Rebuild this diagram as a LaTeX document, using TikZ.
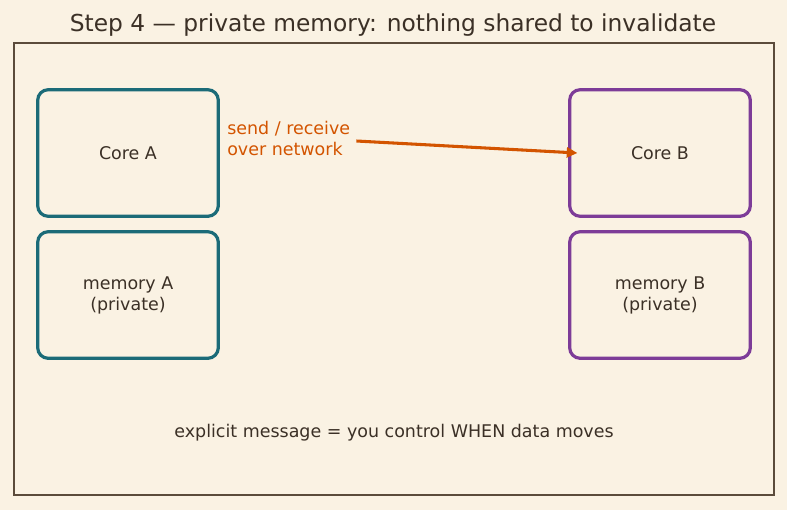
\documentclass[tikz,border=0pt]{standalone}
\usepackage{fontspec}
\setmainfont{DejaVu Sans}
\usepackage{tikz}
\usetikzlibrary{arrows.meta}
\definecolor{paper}{HTML}{FAF2E3}
\definecolor{ink}{HTML}{3B3026}
\definecolor{framec}{HTML}{5B4B3B}
\definecolor{teal}{HTML}{1B6B78}
\definecolor{plum}{HTML}{7D3C98}
\definecolor{rust}{HTML}{D35400}

\begin{document}
\begin{tikzpicture}[
  x=0.75pt, y=-0.75pt,
  box/.style={rectangle, draw, rounded corners=8pt, line width=2.4pt,
              minimum width=135.5pt, minimum height=95pt,
              align=center, text=ink, font=\fontsize{13.1}{15.75}\selectfont},
  arrow/.style={-{Triangle[length=8pt,width=7.5pt]}, line width=2.3pt, rust}
]
\fill[paper] (0,0) rectangle (787,510);
\useasboundingbox (0,0) rectangle (787,510);
\node[text=ink, font=\fontsize{17.5}{21}\selectfont] (title) at (393,25)
  {Step 4 — private memory: nothing shared to invalidate};
\draw[framec, line width=1.1pt] (14,43) rectangle (774,495);

\node[box, draw=teal] (coreA) at (128,153) {Core A};
\node[box, draw=teal] (memA)  at (128,295) {memory A\\(private)};
\node[box, draw=plum] (coreB) at (660,153) {Core B};
\node[box, draw=plum] (memB)  at (660,295) {memory B\\(private)};

\node[anchor=west, align=left, inner sep=0pt, text=rust,
      font=\fontsize{13.1}{15.75}\selectfont] (net) at (227,138)
  {send / receive\\over network};

\draw[arrow] ([shift={(6,3)}]net.east) -- ([xshift=7pt]coreB.west);

\node[text=ink, font=\fontsize{13.1}{15.75}\selectfont] (note) at (394,433)
  {explicit message = you control WHEN data moves};
\end{tikzpicture}
\end{document}
